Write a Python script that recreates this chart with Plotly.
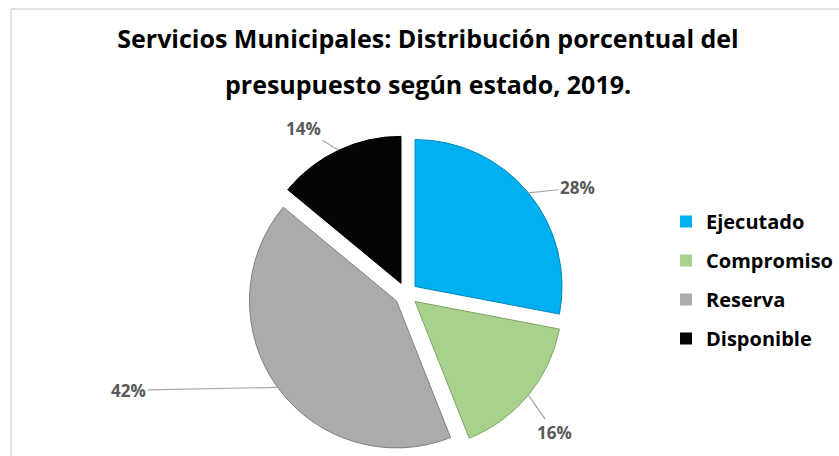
import math
import plotly.graph_objects as go

categories = ["Ejecutado", "Compromiso", "Reserva", "Disponible"]
values = [28, 16, 42, 14]
colors = ["#00B0F0", "#A9D18E", "#ABABAB", "#050505"]
edge_colors = ["#0088BB", "#7FA466", "#808080", "#000000"]
title_line1 = "Servicios Municipales: Distribución porcentual del"
title_line2 = "presupuesto según estado, 2019."

FONT = "Open Sans, sans-serif"
W, H = 839, 456

# pie geometry (pixels)
CX, CY, R, PULL = 406, 294, 147, 0.08
half = R * (1 + PULL)
dom_x = [(CX - half - 60) / W, (CX + half + 60) / W]
dom_y = [1 - (CY + half) / H, 1 - (CY - half) / H]

# label offsets (pixels) from the slice edge
label_dx = [49, 26, -149, -35]
label_dy = [-5, 37, 3, -22]

fig = go.Figure()
fig.add_trace(go.Pie(
    labels=categories, values=values, sort=False, direction="clockwise", rotation=0,
    marker=dict(colors=colors, line=dict(width=1, color=edge_colors)),
    pull=[PULL] * 4,
    textinfo="none",
    showlegend=False, hoverinfo="label+percent",
    domain=dict(x=dom_x, y=dom_y),
))

total = sum(values)
annotations = []
cum = 0
for v, dx, dy in zip(values, label_dx, label_dy):
    mid = (cum + v / 2) / total * 2 * math.pi
    cum += v
    ex = CX + (1 + PULL) * R * math.sin(mid)
    ey = CY - (1 + PULL) * R * math.cos(mid)
    annotations.append(dict(
        x=ex / W, y=1 - ey / H, xref="paper", yref="paper",
        text="<b>%d%%</b>" % round(100 * v / total),
        showarrow=True, arrowhead=0, arrowwidth=1.2, arrowcolor="#A6A6A6",
        ax=dx, ay=dy, standoff=0,
        font=dict(family=FONT, size=17, color="#595959"),
    ))

# second line of the title
annotations.append(dict(
    x=428 / W, y=1 - 84 / H, xref="paper", yref="paper", xanchor="center", yanchor="middle",
    text="<b>" + title_line2 + "</b>", showarrow=False,
    font=dict(family=FONT, size=25, color="black"),
))

for c, col in zip(categories, colors):
    fig.add_trace(go.Scatter(
        x=[None], y=[None], mode="markers", name="<b>" + c + "</b>", legendgroup=c,
        marker=dict(symbol="square", size=12, color=col, line=dict(width=0)),
    ))

fig.update_layout(
    width=W, height=H,
    margin=dict(l=0, r=0, t=0, b=0),
    paper_bgcolor="white", plot_bgcolor="white",
    title=dict(text="<b>" + title_line1 + "</b>", x=428 / W, xanchor="center", y=1 - 30 / H, yanchor="top",
               font=dict(family=FONT, size=25, color="black")),
    xaxis=dict(visible=False), yaxis=dict(visible=False),
    legend=dict(x=666 / W, xanchor="left", y=1 - 202 / H, yanchor="top", tracegroupgap=10,
                font=dict(family=FONT, size=20, color="black"), itemwidth=30),
    annotations=annotations,
    shapes=[
        dict(type="line", xref="paper", yref="paper", x0=11 / W, x1=1.0, y0=1 - 9 / H, y1=1 - 9 / H,
             line=dict(color="#D9D9D9", width=1.5)),
        dict(type="line", xref="paper", yref="paper", x0=11 / W, x1=11 / W, y0=0, y1=1 - 9 / H,
             line=dict(color="#D9D9D9", width=1.5)),
    ],
)

fig.write_html("out.html", config={"displayModeBar": False},
               post_script="document.body.style.margin='0';")
